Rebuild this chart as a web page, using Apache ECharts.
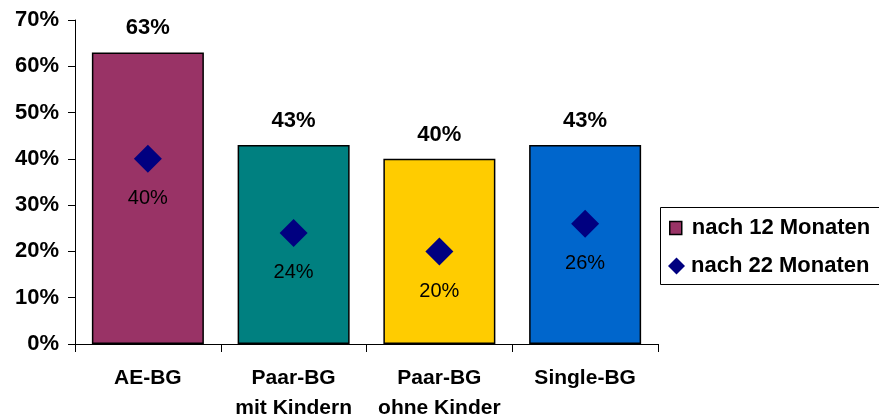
<!DOCTYPE html>
<html>
<head>
<meta charset="utf-8">
<script src="https://cdn.jsdelivr.net/npm/echarts@6/dist/echarts.min.js"></script>
<style>
html,body{margin:0;padding:0;background:#fff;}
#chart{width:879px;height:420px;}
</style>
</head>
<body>
<div id="chart"></div>
<script>
var categories = ['AE-BG', 'Paar-BG\nmit Kindern', 'Paar-BG\nohne Kinder', 'Single-BG'];
var after12 = [63, 43, 40, 43];
var after22 = [40, 24, 20, 26];
var barColors = ['#993366', '#008080', '#FFCC00', '#0066CC'];
var yTicks = [0, 10, 20, 30, 40, 50, 60, 70];
var seriesNames = ['nach 12 Monaten', 'nach 22 Monaten'];

var FONT = '"Liberation Sans", Arial, sans-serif';
var chart = echarts.init(document.getElementById('chart'), null, {renderer: 'canvas'});
chart.setOption({
  animation: false,
  backgroundColor: '#ffffff',
  grid: {left: 75, right: 221, top: 20, bottom: 76, containLabel: false, outerBoundsMode: 'none'},
  graphic: [{
    type: 'rect',
    shape: {x: 660.5, y: 207.5, width: 240, height: 77},
    style: {fill: '#fff', stroke: '#000', lineWidth: 1},
    z: 0
  }],
  legend: [
    {
      orient: 'vertical', left: 669, top: 217, padding: 0,
      itemWidth: 12, itemHeight: 13,
      textStyle: {fontFamily: FONT, fontSize: 22, fontWeight: 'bold', color: '#000', padding: [0, 0, 0, 5]},
      data: [{name: seriesNames[0], icon: 'rect', itemStyle: {color: '#993366', borderColor: '#000', borderWidth: 1.5}}],
      z: 5
    },
    {
      orient: 'vertical', left: 668, top: 255, padding: 0,
      itemWidth: 17, itemHeight: 17,
      textStyle: {fontFamily: FONT, fontSize: 22, fontWeight: 'bold', color: '#000', padding: [0, 0, 0, 1]},
      data: [{name: seriesNames[1], icon: 'diamond', itemStyle: {color: '#000080', opacity: 1}}],
      z: 5
    }
  ],
  xAxis: {
    type: 'category',
    data: categories,
    boundaryGap: true,
    axisLine: {lineStyle: {color: '#000', width: 1}},
    axisTick: {show: true, length: 8, interval: 0, alignWithLabel: false, lineStyle: {color: '#000'}},
    axisLabel: {interval: 0, hideOverlap: false, fontFamily: FONT, fontSize: 21, fontWeight: 'bold', color: '#000', margin: 19, lineHeight: 30}
  },
  yAxis: {
    type: 'value',
    min: yTicks[0],
    max: yTicks[yTicks.length - 1],
    interval: 10,
    axisLine: {show: true, lineStyle: {color: '#000', width: 1}},
    axisTick: {show: true, length: 7, lineStyle: {color: '#000'}},
    splitLine: {show: false},
    axisLabel: {fontFamily: FONT, fontSize: 22, fontWeight: 'bold', color: '#000', margin: 16,
      formatter: function (v) { return v + '%'; }}
  },
  series: [
    {
      name: seriesNames[0],
      type: 'bar',
      barWidth: 112,
      itemStyle: {color: '#993366', borderColor: '#000', borderWidth: 1.5},
      data: after12.map(function (v, i) {
        return {value: v, itemStyle: {color: barColors[i]}};
      }),
      label: {show: true, position: 'top', distance: 13, fontFamily: FONT, fontSize: 22, fontWeight: 'bold', color: '#000',
        formatter: function (p) { return p.value + '%'; }},
      z: 1
    },
    {
      name: seriesNames[1],
      type: 'scatter',
      symbol: 'diamond',
      symbolSize: 28,
      itemStyle: {color: '#000080', opacity: 1},
      data: after22,
      label: {show: true, position: 'bottom', distance: 16, fontFamily: FONT, fontSize: 20, color: '#000',
        formatter: function (p) { return p.value + '%'; }},
      z: 3
    }
  ]
});
</script>
</body>
</html>
